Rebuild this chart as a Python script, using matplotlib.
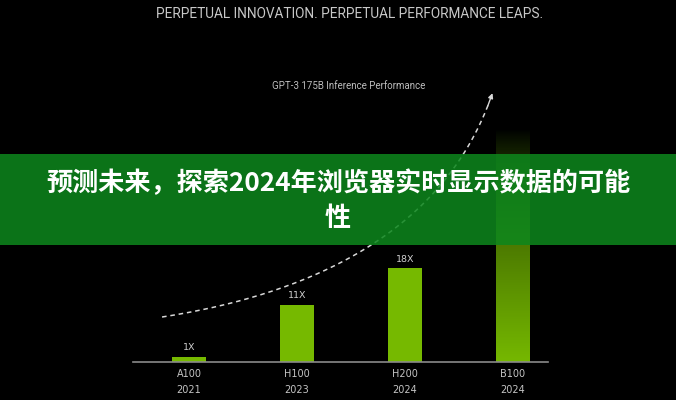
import numpy as np
import matplotlib
matplotlib.use("Agg")
import matplotlib.pyplot as plt
from matplotlib.patches import Rectangle
from matplotlib.colors import LinearSegmentedColormap

# ---- data ----
gpus = ["A100", "H100", "H200", "B100"]
years = ["2021", "2023", "2024", "2024"]
speedup = [1, 11, 18, 44.6]
speed_labels = ["1X", "11X", "18X", ""]

title = "PERPETUAL INNOVATION. PERPETUAL PERFORMANCE LEAPS."
subtitle = "GPT-3 175B Inference Performance"
banner_text_1 = "预测未来，探索2024年浏览器实时显示数据的可能"
banner_text_2 = "性"

W, H = 676, 400
fig = plt.figure(figsize=(W / 100, H / 100), dpi=100, facecolor="black")

# axes: baseline at y=362 px, 1 unit = 5.2 px; x from 133 to 548 px
ymax = 60
ax = fig.add_axes([133 / W, (H - 362) / H, (548 - 133) / W, ymax * 5.2 / H])
ax.set_facecolor("black")
for s in ["top", "right", "left"]:
    ax.spines[s].set_visible(False)
ax.spines["bottom"].set_color("#8a8a8a")
ax.spines["bottom"].set_linewidth(1.2)
ax.set_yticks([])
x = np.arange(len(gpus))
ax.set_xticks(x)
ax.set_xticklabels([f"{g}\n{y}" for g, y in zip(gpus, years)],
                   color="#c4c4c4", fontsize=7, linespacing=1.75,
                   family="DejaVu Sans")
ax.tick_params(axis="x", length=0, pad=5)

green = "#76b900"
bars = ax.bar(x, speedup, width=0.31, color=green, zorder=2)

# gradient for the last (B100) bar: bright at the bottom, fading at the top
last = bars[-1]
last.set_facecolor("none")
cmap = LinearSegmentedColormap.from_list(
    "fade", [(0.0, 0.01, 0.0), (0.28, 0.45, 0.0), (0.46, 0.72, 0.0)])
grad = np.linspace(0, 1, 256).reshape(-1, 1) ** 0.85
bx = last.get_x()
im = ax.imshow(grad, cmap=cmap, aspect="auto", zorder=2,
               extent=[bx, bx + last.get_width(), 0, last.get_height()],
               origin="upper", vmin=0, vmax=1)
im.set_clip_path(last)
ax.set_xlim(-0.519, 3.324)
ax.set_ylim(0, ymax)

for xi, v, lab in zip(x, speedup, speed_labels):
    if lab:
        ax.text(xi, v + 1.8, lab, ha="center", va="center", color="#cfcfcf",
                fontsize=6.8, zorder=3)

# dashed trend curve (quadratic Bezier) with arrow head
p0 = np.array([-0.25, 8.65])
c1 = np.array([2.23, 16.7])
p2 = np.array([2.81, 51.7])
t = np.linspace(0, 1, 200)[:, None]
curve = (1 - t) ** 2 * p0 + 2 * t * (1 - t) * c1 + t ** 2 * p2
ax.plot(curve[:-6, 0], curve[:-6, 1], ls=(0, (3, 2.5)), color="#d8d8d8",
        lw=1.1, zorder=3, clip_on=False)
ax.annotate("", xy=curve[-1], xytext=curve[-8],
            arrowprops=dict(arrowstyle="-|>", color="#d8d8d8", lw=1.0,
                            mutation_scale=7, shrinkA=0, shrinkB=0),
            annotation_clip=False, zorder=3)

# titles
fig.text(350 / W, 1 - 14 / H, title, ha="center", va="center",
         color="#c8c8c8", fontsize=9.85, family="Roboto")
fig.text(348.5 / W, 1 - 86 / H, subtitle, ha="center", va="center",
         color="#bdbdbd", fontsize=7.0, family="Roboto")

# translucent green banner
fig.patches.append(Rectangle((0, (H - 245) / H), 1, 91 / H,
                             transform=fig.transFigure, facecolor="#0d871d",
                             alpha=0.86, edgecolor="none", zorder=5))
fig.text(0.5, 1 - 184 / H, banner_text_1, ha="center", va="center",
         color="white", fontsize=18.8, fontweight="bold",
         family=["Noto Sans CJK SC", "DejaVu Sans"], zorder=6)
fig.text(0.5, 1 - 219 / H, banner_text_2, ha="center", va="center",
         color="white", fontsize=18.8, fontweight="bold",
         family=["Noto Sans CJK SC", "DejaVu Sans"], zorder=6)

fig.savefig("out.png", dpi=100, facecolor="black")
